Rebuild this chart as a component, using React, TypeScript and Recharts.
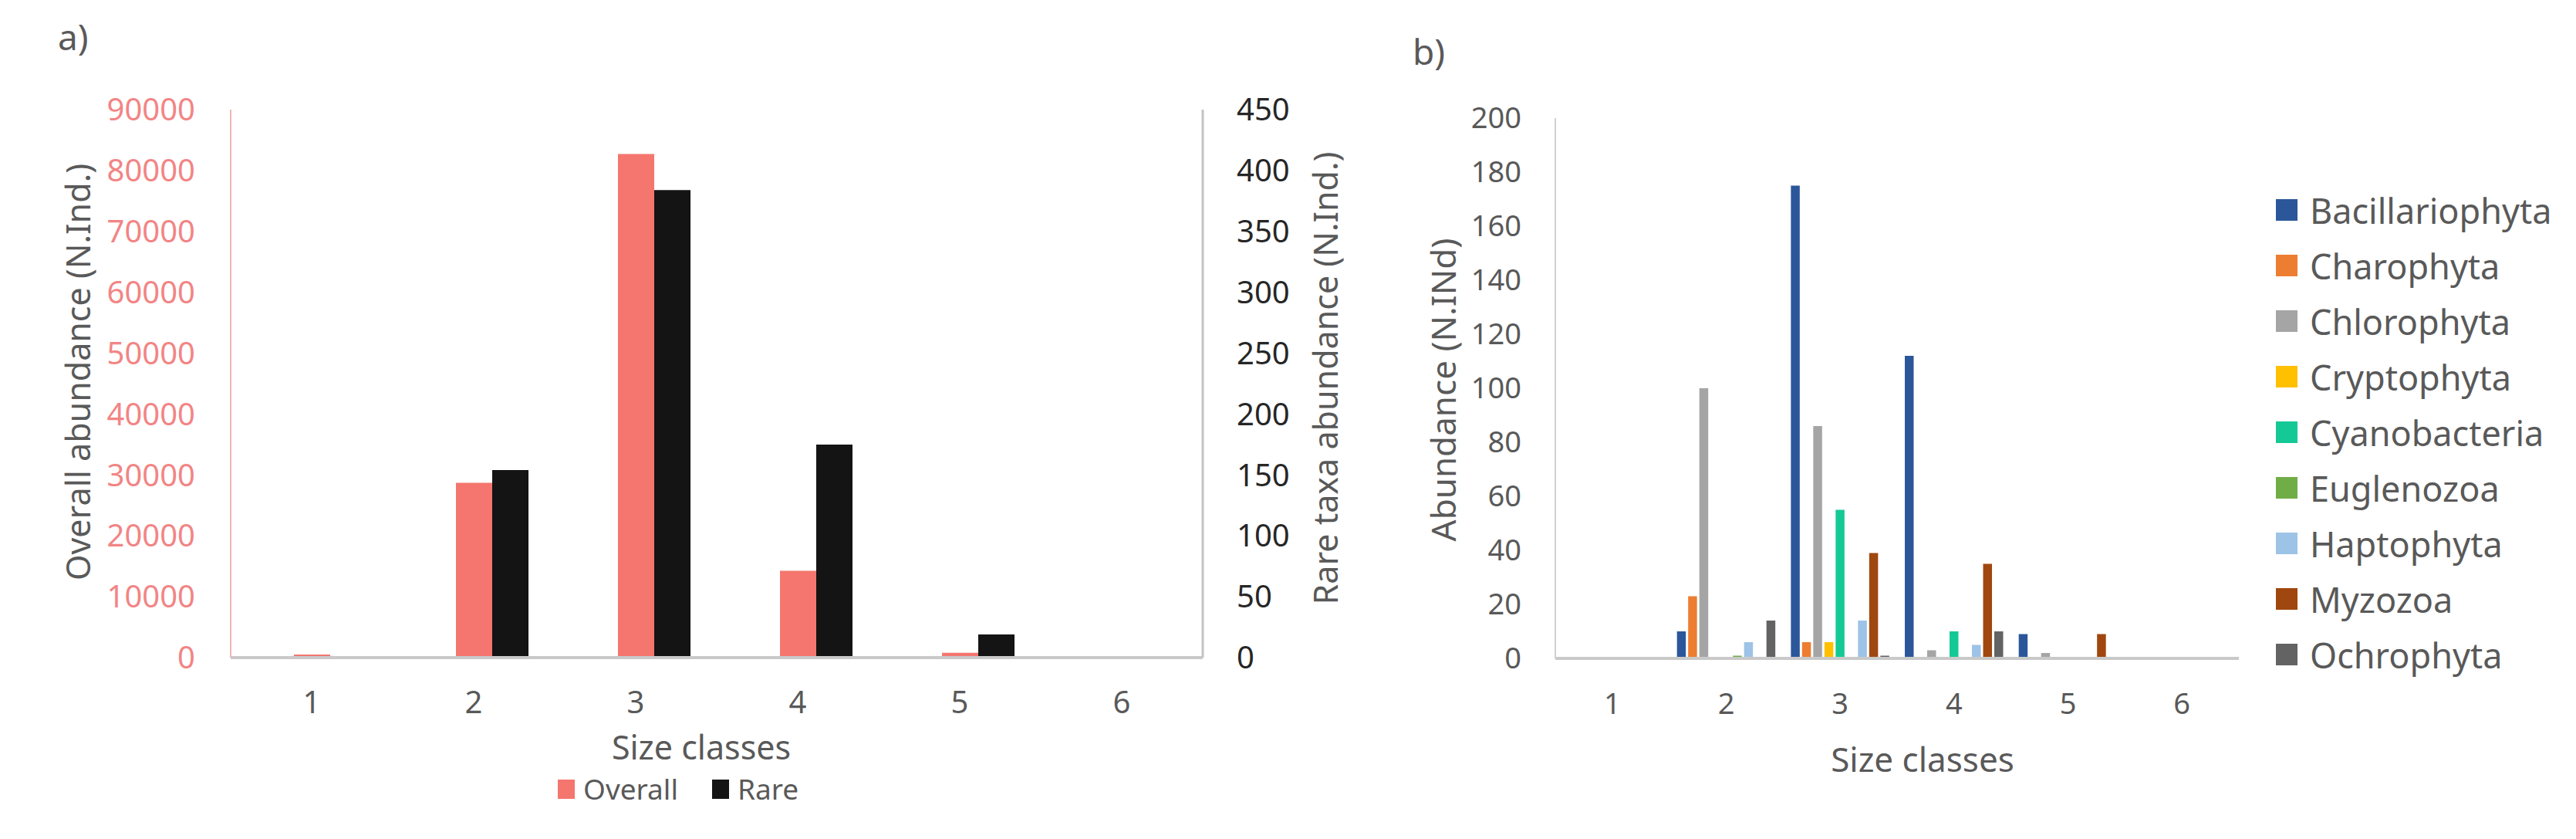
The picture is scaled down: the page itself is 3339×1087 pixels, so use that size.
import React from 'react';
import { BarChart, Bar, XAxis, YAxis, Legend } from 'recharts';

const sizeClasses = ['1', '2', '3', '4', '5', '6'];

// a) overall vs rare abundance
const overallAbundance = [500, 28700, 82700, 14250, 800, 0];
const rareAbundance = [0, 154, 384, 175, 19, 0];
const overallTicks = [0, 10000, 20000, 30000, 40000, 50000, 60000, 70000, 80000, 90000];
const rareTicks = [0, 50, 100, 150, 200, 250, 300, 350, 400, 450];

// b) rare taxa by phylum
const phyla = [
  'Bacillariophyta',
  'Charophyta',
  'Chlorophyta',
  'Cryptophyta',
  'Cyanobacteria',
  'Euglenozoa',
  'Haptophyta',
  'Myzozoa',
  'Ochrophyta',
];
const phylumColors = [
  '#2B579A',
  '#ED7D31',
  '#A5A5A5',
  '#FFC000',
  '#14C995',
  '#70AD47',
  '#9DC3E6',
  '#A0470F',
  '#636363',
];
const bacillariophyta = [0, 10, 175, 112, 9, 0];
const charophyta = [0, 23, 6, 0, 0, 0];
const chlorophyta = [0, 100, 86, 3, 2, 0];
const cryptophyta = [0, 0, 6, 0, 0, 0];
const cyanobacteria = [0, 0, 55, 10, 0, 0];
const euglenozoa = [0, 1, 0, 0, 0, 0];
const haptophyta = [0, 6, 14, 5, 0, 0];
const myzozoa = [0, 0, 39, 35, 9, 0];
const ochrophyta = [0, 14, 1, 10, 0, 0];
const phylumValues = [
  bacillariophyta,
  charophyta,
  chlorophyta,
  cryptophyta,
  cyanobacteria,
  euglenozoa,
  haptophyta,
  myzozoa,
  ochrophyta,
];
const abundanceTicks = [0, 20, 40, 60, 80, 100, 120, 140, 160, 180, 200];

const chartAData = sizeClasses.map((size, i) => ({
  size,
  overall: overallAbundance[i],
  rare: rareAbundance[i],
}));

const chartBData = sizeClasses.map((size, i) => {
  const row: Record<string, string | number> = { size };
  phyla.forEach((p, j) => {
    row[p] = phylumValues[j][i];
  });
  return row;
});

const GREY = '#595959';

const vTitle = (text: string, x: number, y: number, size: number) => () => (
  <text
    x={x}
    y={y}
    transform={`rotate(-90 ${x} ${y})`}
    textAnchor="middle"
    dominantBaseline="central"
    fontSize={size}
    fill={GREY}
  >
    {text}
  </text>
);

const hTitle = (text: string, x: number, y: number, size: number) => () => (
  <text x={x} y={y} textAnchor="middle" dominantBaseline="central" fontSize={size} fill={GREY}>
    {text}
  </text>
);

const legendA = (props: any) => {
  const items = (props.payload || []).filter((p: any) => p.type !== 'none');
  return (
    <div style={{ display: 'flex', alignItems: 'center', fontSize: 37, color: GREY, lineHeight: '44px' }}>
      {items.map((p: any) => (
        <div key={p.value} style={{ display: 'flex', alignItems: 'center', marginRight: 44 }}>
          <span style={{ display: 'inline-block', width: 22, height: 25, background: p.color, marginRight: 11 }} />
          <span>{p.value}</span>
        </div>
      ))}
    </div>
  );
};

const legendB = (props: any) => {
  const items = props.payload || [];
  return (
    <div style={{ fontSize: 45, color: GREY }}>
      {items.map((p: any) => (
        <div key={p.value} style={{ display: 'flex', alignItems: 'center', height: 72 }}>
          <span style={{ display: 'inline-block', width: 28, height: 28, background: p.color, marginRight: 16 }} />
          <span>{p.value}</span>
        </div>
      ))}
    </div>
  );
};

function OverallRareChart() {
  return (
    <BarChart width={1790} height={1087} data={chartAData} margin={{ top: 142, right: 0, bottom: 0, left: 0 }} barGap={0}>
      <XAxis
        dataKey="size"
        height={235}
        interval={0}
        tickLine={false}
        tickSize={0}
        tickMargin={44}
        axisLine={{ stroke: '#C9C9C9', strokeWidth: 4 }}
        tick={{ fontSize: 40, fill: GREY }}
        label={{ value: 'Size classes', content: hTitle('Size classes', 909, 967, 43) }}
      />
      <YAxis
        yAxisId="left"
        width={299}
        domain={[0, 90000]}
        ticks={overallTicks}
        interval={0}
        tickLine={false}
        tickSize={0}
        tickMargin={46}
        axisLine={{ stroke: '#F4B3B3', strokeWidth: 2 }}
        tick={{ fontSize: 40, fill: '#F28585' }}
        label={{ value: 'Overall abundance (N.Ind.)', content: vTitle('Overall abundance (N.Ind.)', 100, 482, 43) }}
      />
      <YAxis
        yAxisId="right"
        orientation="right"
        width={231}
        domain={[0, 450]}
        ticks={rareTicks}
        interval={0}
        tickLine={false}
        tickSize={0}
        tickMargin={44}
        axisLine={{ stroke: '#C4C4C4', strokeWidth: 3 }}
        tick={{ fontSize: 40, fill: '#262626' }}
        label={{ value: 'Rare taxa abundance (N.Ind.)', content: vTitle('Rare taxa abundance (N.Ind.)', 1717, 490, 43) }}
      />
      <Legend
        layout="horizontal"
        align="center"
        verticalAlign="middle"
        content={legendA}
        wrapperStyle={{ left: 723, top: 1000, width: 400 }}
      />
      {/* empty slot so Overall sits on the tick, Rare to its right */}
      <Bar dataKey="spacer" yAxisId="left" barSize={47} legendType="none" isAnimationActive={false} />
      <Bar dataKey="overall" name="Overall" yAxisId="left" fill="#F4766E" barSize={47} isAnimationActive={false} />
      <Bar dataKey="rare" name="Rare" yAxisId="right" fill="#141414" barSize={47} isAnimationActive={false} />
    </BarChart>
  );
}

function PhylumChart() {
  return (
    <BarChart width={1549} height={1087} data={chartBData} margin={{ top: 153, right: 437, bottom: 0, left: 0 }} barGap={3}>
      <XAxis
        dataKey="size"
        height={234}
        interval={0}
        tickLine={false}
        tickSize={0}
        tickMargin={45}
        axisLine={{ stroke: '#C9C9C9', strokeWidth: 4 }}
        tick={{ fontSize: 38, fill: GREY }}
        label={{ value: 'Size classes', content: hTitle('Size classes', 702, 983, 44) }}
      />
      <YAxis
        width={226}
        domain={[0, 200]}
        ticks={abundanceTicks}
        interval={0}
        tickLine={false}
        tickSize={0}
        tickMargin={44}
        axisLine={{ stroke: '#D0D0D0', strokeWidth: 2 }}
        tick={{ fontSize: 38, fill: GREY }}
        label={{ value: 'Abundance (N.INd)', content: vTitle('Abundance (N.INd)', 80, 505, 44) }}
      />
      <Legend
        layout="horizontal"
        align="center"
        verticalAlign="middle"
        content={legendB}
        wrapperStyle={{ left: 1160, top: 236, width: 380 }}
      />
      {phyla.map((p, j) => (
        <Bar key={p} dataKey={p} name={p} fill={phylumColors[j]} barSize={11.5} isAnimationActive={false} />
      ))}
    </BarChart>
  );
}

export default function App() {
  return (
    <div
      style={{
        position: 'absolute',
        left: 0,
        top: 0,
        width: 3339,
        height: 1087,
        background: '#fff',
        fontFamily: "'Noto Sans', sans-serif",
      }}
    >
      <div style={{ position: 'absolute', left: 75, top: 21, fontSize: 46, lineHeight: '52px', color: GREY }}>a)</div>
      <div style={{ position: 'absolute', left: 1831, top: 40, fontSize: 46, lineHeight: '52px', color: GREY }}>b)</div>
      <div style={{ position: 'absolute', left: 0, top: 0 }}>
        <OverallRareChart />
      </div>
      <div style={{ position: 'absolute', left: 1790, top: 0 }}>
        <PhylumChart />
      </div>
    </div>
  );
}
